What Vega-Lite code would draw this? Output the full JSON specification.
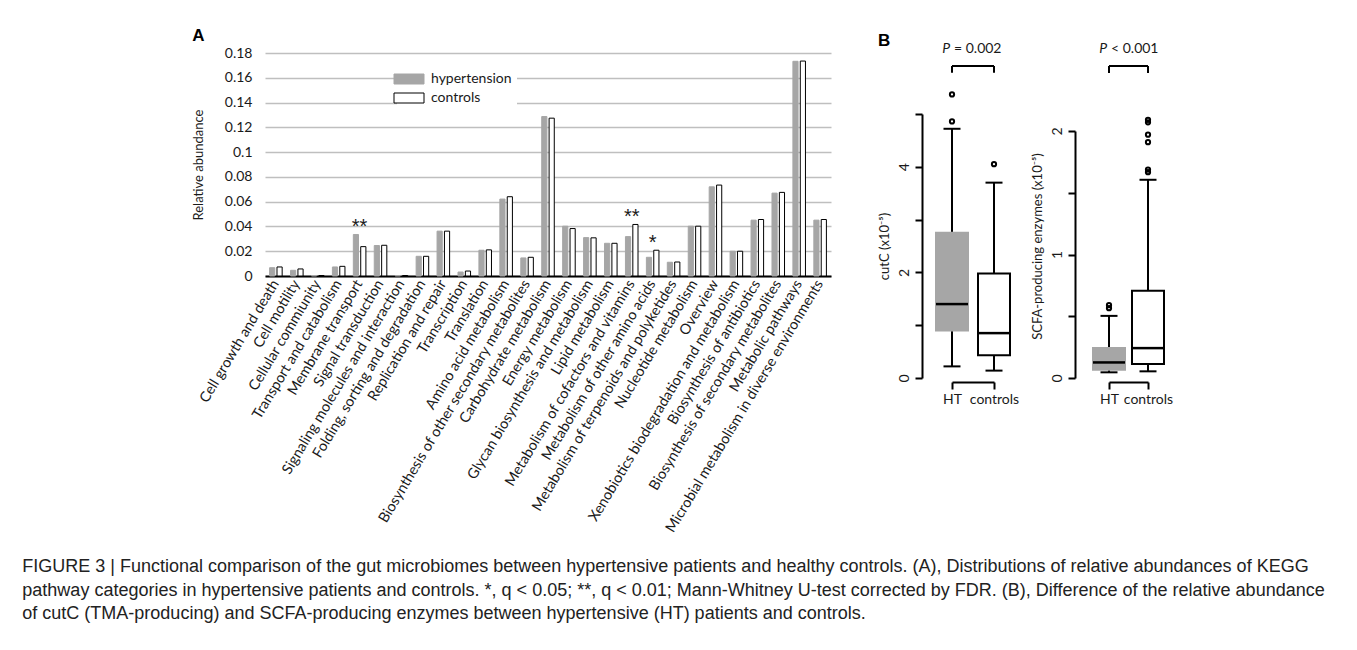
{
  "$schema": "https://vega.github.io/schema/vega-lite/v6.json",
  "background": "white",
  "padding": {"left": 22, "top": 27, "right": 5, "bottom": 2},
  "title": {
    "text": [
      "FIGURE 3 | Functional comparison of the gut microbiomes between hypertensive patients and healthy controls. (A), Distributions of relative abundances of KEGG",
      "pathway categories in hypertensive patients and controls. *, q < 0.05; **, q < 0.01; Mann-Whitney U-test corrected by FDR. (B), Difference of the relative abundance",
      "of cutC (TMA-producing) and SCFA-producing enzymes between hypertensive (HT) patients and controls."
    ],
    "orient": "bottom",
    "anchor": "start",
    "frame": "bounds",
    "dx": -170,
    "offset": 24,
    "font": "Liberation Sans",
    "fontSize": 18,
    "fontWeight": "normal",
    "lineHeight": 23.5,
    "color": "#222222"
  },
  "datasets": {
    "kegg": [
      {"category": "Cell growth and death", "hypertension": 0.0067, "controls": 0.0073, "sig": ""},
      {"category": "Cell motility", "hypertension": 0.0046, "controls": 0.0057, "sig": ""},
      {"category": "Cellular commiunity", "hypertension": 0.0004, "controls": 0.0004, "sig": ""},
      {"category": "Transport and catabolism", "hypertension": 0.0073, "controls": 0.0078, "sig": ""},
      {"category": "Membrane transport", "hypertension": 0.0335, "controls": 0.0237, "sig": "**"},
      {"category": "Signal transduction", "hypertension": 0.0246, "controls": 0.0248, "sig": ""},
      {"category": "Signaling molecules and interaction", "hypertension": 0.0004, "controls": 0.0004, "sig": ""},
      {"category": "Folding, sorting and degradation", "hypertension": 0.0159, "controls": 0.0159, "sig": ""},
      {"category": "Replication and repair", "hypertension": 0.0362, "controls": 0.0362, "sig": ""},
      {"category": "Transcription", "hypertension": 0.0032, "controls": 0.0040, "sig": ""},
      {"category": "Translation", "hypertension": 0.0208, "controls": 0.0211, "sig": ""},
      {"category": "Amino acid metabolism", "hypertension": 0.0621, "controls": 0.0640, "sig": ""},
      {"category": "Biosynthesis of other secondary metabolites", "hypertension": 0.0146, "controls": 0.0151, "sig": ""},
      {"category": "Carbohydrate metabolism", "hypertension": 0.1287, "controls": 0.1274, "sig": ""},
      {"category": "Energy metabolism", "hypertension": 0.0402, "controls": 0.0383, "sig": ""},
      {"category": "Glycan biosynthesis and metabolism", "hypertension": 0.0310, "controls": 0.0308, "sig": ""},
      {"category": "Lipid metabolism", "hypertension": 0.0264, "controls": 0.0264, "sig": ""},
      {"category": "Metabolism of cofactors and vitamins", "hypertension": 0.0318, "controls": 0.0416, "sig": "**"},
      {"category": "Metabolism of other amino acids", "hypertension": 0.0151, "controls": 0.0208, "sig": "*"},
      {"category": "Metabolism of terpenoids and polyketides", "hypertension": 0.0111, "controls": 0.0113, "sig": ""},
      {"category": "Nucleotide metabolism", "hypertension": 0.0402, "controls": 0.0402, "sig": ""},
      {"category": "Overview", "hypertension": 0.0720, "controls": 0.0734, "sig": ""},
      {"category": "Xenobiotics biodegradation and metabolism", "hypertension": 0.0200, "controls": 0.0200, "sig": ""},
      {"category": "Biosynthesis of antibiotics", "hypertension": 0.0451, "controls": 0.0456, "sig": ""},
      {"category": "Biosynthesis of secondary metabolites", "hypertension": 0.0669, "controls": 0.0675, "sig": ""},
      {"category": "Metabolic pathways", "hypertension": 0.1733, "controls": 0.1735, "sig": ""},
      {"category": "Microbial metabolism in diverse environments", "hypertension": 0.0451, "controls": 0.0456, "sig": ""}
    ],
    "cutc": [
      {"group": "HT", "lower": 0.22, "q1": 0.90, "median": 1.40, "q3": 2.75, "upper": 4.72},
      {"group": "controls", "lower": 0.14, "q1": 0.43, "median": 0.85, "q3": 1.98, "upper": 3.70}
    ],
    "cutc_out": [
      {"group": "HT", "value": 4.86},
      {"group": "HT", "value": 5.37},
      {"group": "controls", "value": 4.05}
    ],
    "scfa": [
      {"group": "HT", "lower": 0.046, "q1": 0.067, "median": 0.126, "q3": 0.242, "upper": 0.503},
      {"group": "controls", "lower": 0.054, "q1": 0.113, "median": 0.242, "q3": 0.707, "upper": 1.605}
    ],
    "scfa_out": [
      {"group": "HT", "value": 0.565},
      {"group": "HT", "value": 0.59},
      {"group": "controls", "value": 1.667},
      {"group": "controls", "value": 1.688},
      {"group": "controls", "value": 1.909},
      {"group": "controls", "value": 1.970},
      {"group": "controls", "value": 2.070},
      {"group": "controls", "value": 2.091}
    ]
  },
  "resolve": {"scale": {"fill": "independent", "stroke": "independent"}, "legend": {"fill": "independent", "stroke": "independent"}},
  "spacing": 47,
  "hconcat": [
    {
      "title": {"text": "A", "anchor": "start", "frame": "bounds", "font": "Liberation Sans", "fontSize": 17, "fontWeight": "bold", "color": "#000000", "offset": 1},
      "width": 566,
      "height": 223,
      "data": {"name": "kegg"},
      "layer": [
        {
          "transform": [{"fold": ["hypertension", "controls"], "as": ["group", "abundance"]}],
          "mark": {"type": "bar", "strokeWidth": 1},
          "encoding": {
            "x": {
              "field": "category", "type": "nominal", "sort": null,
              "scale": {"paddingInner": 0.4, "paddingOuter": 0.22},
              "axis": {"title": null, "labelAngle": -59, "labelAlign": "right", "labelBaseline": "middle", "labelFont": "Lato", "labelFontSize": 14.5, "labelColor": "#1a1a1a", "labelLimit": 0, "labelPadding": 5, "ticks": false, "domainColor": "#000000", "domainWidth": 2, "labelOverlap": false}
            },
            "xOffset": {"field": "group", "type": "nominal", "sort": ["hypertension", "controls"], "scale": {"paddingInner": 0.3}},
            "y": {
              "field": "abundance", "type": "quantitative",
              "scale": {"domain": [0, 0.18], "nice": false},
              "axis": {"title": "Relative abundance", "titleFont": "Lato", "titleFontSize": 13, "titleFontWeight": "normal", "titleColor": "#1a1a1a", "titlePadding": 19, "values": [0, 0.02, 0.04, 0.06, 0.08, 0.1, 0.12, 0.14, 0.16, 0.18], "labelExpr": "format(datum.value, '~g')", "labelOverlap": false, "labelFont": "Lato", "labelFontSize": 14, "labelColor": "#1a1a1a", "labelPadding": 13, "domain": false, "ticks": false, "grid": true, "gridColor": "#bfbfbf", "gridWidth": 1.3}
            },
            "fill": {
              "field": "group", "type": "nominal",
              "scale": {"domain": ["hypertension", "controls"], "range": ["#a6a6a6", "#ffffff"]},
              "legend": {"title": null, "orient": "none", "legendX": 132, "legendY": 14, "symbolType": "M-3,-1H3V1H-3Z", "symbolSize": 100, "symbolStrokeWidth": 1, "labelFont": "Lato", "labelFontSize": 14, "labelColor": "#1a1a1a", "labelOffset": 15, "rowPadding": 5, "padding": 5, "fillColor": "#ffffff"}
            },
            "stroke": {
              "field": "group", "type": "nominal",
              "scale": {"domain": ["hypertension", "controls"], "range": ["#a6a6a6", "#000000"]},
              "legend": {"title": null, "orient": "none", "legendX": 132, "legendY": 14, "symbolType": "M-3,-1H3V1H-3Z", "symbolSize": 100, "symbolStrokeWidth": 1, "labelFont": "Lato", "labelFontSize": 14, "labelColor": "#1a1a1a", "labelOffset": 15, "rowPadding": 5, "padding": 5, "fillColor": "#ffffff"}
            }
          }
        },
        {
          "transform": [
            {"filter": "datum.sig != ''"},
            {"fold": ["hypertension", "controls"], "as": ["group", "abundance"]},
            {"aggregate": [{"op": "max", "field": "abundance", "as": "top"}], "groupby": ["category", "sig"]}
          ],
          "mark": {"type": "text", "font": "Liberation Sans", "fontSize": 20, "baseline": "alphabetic", "dy": -1, "color": "#1a1a1a"},
          "encoding": {
            "x": {"field": "category", "type": "nominal", "sort": null},
            "y": {
              "field": "top", "type": "quantitative",
              "axis": {"title": "Relative abundance", "titleFont": "Lato", "titleFontSize": 13, "titleFontWeight": "normal", "titleColor": "#1a1a1a", "titlePadding": 19, "values": [0, 0.02, 0.04, 0.06, 0.08, 0.1, 0.12, 0.14, 0.16, 0.18], "labelExpr": "format(datum.value, '~g')", "labelOverlap": false, "labelFont": "Lato", "labelFontSize": 14, "labelColor": "#1a1a1a", "labelPadding": 13, "domain": false, "ticks": false, "grid": true, "gridColor": "#bfbfbf", "gridWidth": 1.3}
            },
            "text": {"field": "sig"}
          }
        }
      ]
    },
    {
      "title": {"text": "B", "anchor": "start", "frame": "bounds", "font": "Liberation Sans", "fontSize": 17, "fontWeight": "bold", "color": "#000000", "offset": -8},
      "spacing": 12,
      "hconcat": [
        {
          "width": 42,
          "height": 325,
          "data": {"name": "cutc"},
          "encoding": {
            "x": {
              "field": "group", "type": "nominal",
              "scale": {"type": "point", "padding": 0, "domain": ["HT", "controls"]},
              "axis": {"title": null, "labelAngle": 0, "labelFont": "Lato", "labelFontSize": 14, "labelColor": "#1a1a1a", "labelPadding": 3, "offset": 4, "domainColor": "#000000", "domainWidth": 2, "tickColor": "#000000", "tickWidth": 2, "tickSize": 7}
            }
          },
          "layer": [
            {
              "mark": {"type": "rule", "color": "#000000", "strokeWidth": 2, "clip": false},
              "encoding": {
                "y": {
                  "field": "lower", "type": "quantitative",
                  "scale": {"domain": [0, 5], "nice": false, "range": [325, 61]},
                  "axis": {"title": "cutC (x10⁻⁵)", "titleFont": "Lato", "titleFontSize": 13, "titleFontWeight": "normal", "titleColor": "#1a1a1a", "titlePadding": 6, "titleY": 193, "values": [0, 1, 2, 3, 4, 5], "labelExpr": "datum.value % 2 == 0 ? format(datum.value, '~g') : ''", "labelOverlap": false, "labelAngle": -90, "labelAlign": "center", "labelBaseline": "bottom", "labelFont": "Lato", "labelFontSize": 14, "labelColor": "#1a1a1a", "labelPadding": 4, "offset": 30, "grid": false, "domainColor": "#000000", "domainWidth": 2, "tickColor": "#000000", "tickWidth": 2, "tickSize": 7}
                },
                "y2": {"field": "upper"}
              }
            },
            {
              "mark": {"type": "tick", "color": "#000000", "thickness": 2, "size": 17, "opacity": 1, "clip": false},
              "encoding": {"y": {"field": "lower", "type": "quantitative", "title": "cutC (x10⁻⁵)"}}
            },
            {
              "mark": {"type": "tick", "color": "#000000", "thickness": 2, "size": 17, "opacity": 1, "clip": false},
              "encoding": {"y": {"field": "upper", "type": "quantitative", "title": "cutC (x10⁻⁵)"}}
            },
            {
              "mark": {"type": "bar", "size": 32, "strokeWidth": 2, "opacity": 1, "clip": false},
              "encoding": {
                "y": {"field": "q1", "type": "quantitative", "title": "cutC (x10⁻⁵)"},
                "y2": {"field": "q3"},
                "fill": {"field": "group", "type": "nominal", "scale": {"domain": ["HT", "controls"], "range": ["#a6a6a6", "#ffffff"]}, "legend": null},
                "stroke": {"field": "group", "type": "nominal", "scale": {"domain": ["HT", "controls"], "range": ["#a6a6a6", "#000000"]}, "legend": null}
              }
            },
            {
              "mark": {"type": "tick", "color": "#000000", "thickness": 2.5, "size": 32, "opacity": 1, "clip": false},
              "encoding": {"y": {"field": "median", "type": "quantitative", "title": "cutC (x10⁻⁵)"}}
            },
            {
              "data": {"name": "cutc_out"},
              "mark": {"type": "point", "shape": "circle", "filled": false, "color": "#000000", "strokeWidth": 2, "size": 18, "opacity": 1, "clip": false},
              "encoding": {"y": {"field": "value", "type": "quantitative", "title": "cutC (x10⁻⁵)"}}
            },
            {
              "mark": {"type": "rule", "color": "#000000", "strokeWidth": 2, "clip": false},
              "encoding": {"y": {"datum": 5.78, "type": "quantitative"}, "y2": {"datum": 5.91}}
            },
            {
              "data": {"values": [{"a": "P", "b": "= 0.002"}]},
              "layer": [
                {
                  "mark": {"type": "rule", "color": "#000000", "strokeWidth": 2, "clip": false},
                  "encoding": {"x": {"datum": "HT"}, "x2": {"datum": "controls"}, "y": {"datum": 5.91, "type": "quantitative"}}
                },
                {
                  "mark": {"type": "text", "font": "Lato", "fontSize": 14, "fontStyle": "italic", "align": "right", "baseline": "middle", "dx": -2, "color": "#1a1a1a", "clip": false},
                  "encoding": {"x": {"datum": "HT"}, "y": {"datum": 6.23, "type": "quantitative"}, "text": {"field": "a"}}
                },
                {
                  "mark": {"type": "text", "font": "Lato", "fontSize": 14, "align": "left", "baseline": "middle", "dx": 2, "color": "#1a1a1a", "clip": false},
                  "encoding": {"x": {"datum": "HT"}, "y": {"datum": 6.23, "type": "quantitative"}, "text": {"field": "b"}}
                }
              ]
            }
          ]
        },
        {
          "width": 39,
          "height": 325,
          "data": {"name": "scfa"},
          "encoding": {
            "x": {
              "field": "group", "type": "nominal",
              "scale": {"type": "point", "padding": 0, "domain": ["HT", "controls"]},
              "axis": {"title": null, "labelAngle": 0, "labelFont": "Lato", "labelFontSize": 14, "labelColor": "#1a1a1a", "labelPadding": 3, "offset": 4, "domainColor": "#000000", "domainWidth": 2, "tickColor": "#000000", "tickWidth": 2, "tickSize": 7}
            }
          },
          "layer": [
            {
              "mark": {"type": "rule", "color": "#000000", "strokeWidth": 2, "clip": false},
              "encoding": {
                "y": {
                  "field": "lower", "type": "quantitative",
                  "scale": {"domain": [0, 2], "nice": false, "range": [325, 78]},
                  "axis": {"title": "SCFA-producing enzymes (x10⁻⁵)", "titleFont": "Lato", "titleFontSize": 13, "titleFontWeight": "normal", "titleColor": "#1a1a1a", "titlePadding": 6, "titleY": 193, "values": [0, 0.5, 1, 1.5, 2], "labelExpr": "datum.value % 1 == 0 ? format(datum.value, '~g') : ''", "labelOverlap": false, "labelAngle": -90, "labelAlign": "center", "labelBaseline": "bottom", "labelFont": "Lato", "labelFontSize": 14, "labelColor": "#1a1a1a", "labelPadding": 4, "offset": 34, "grid": false, "domainColor": "#000000", "domainWidth": 2, "tickColor": "#000000", "tickWidth": 2, "tickSize": 7}
                },
                "y2": {"field": "upper"}
              }
            },
            {
              "mark": {"type": "tick", "color": "#000000", "thickness": 2, "size": 17, "opacity": 1, "clip": false},
              "encoding": {"y": {"field": "lower", "type": "quantitative", "title": "SCFA-producing enzymes (x10⁻⁵)"}}
            },
            {
              "mark": {"type": "tick", "color": "#000000", "thickness": 2, "size": 17, "opacity": 1, "clip": false},
              "encoding": {"y": {"field": "upper", "type": "quantitative", "title": "SCFA-producing enzymes (x10⁻⁵)"}}
            },
            {
              "mark": {"type": "bar", "size": 32, "strokeWidth": 2, "opacity": 1, "clip": false},
              "encoding": {
                "y": {"field": "q1", "type": "quantitative", "title": "SCFA-producing enzymes (x10⁻⁵)"},
                "y2": {"field": "q3"},
                "fill": {"field": "group", "type": "nominal", "scale": {"domain": ["HT", "controls"], "range": ["#a6a6a6", "#ffffff"]}, "legend": null},
                "stroke": {"field": "group", "type": "nominal", "scale": {"domain": ["HT", "controls"], "range": ["#a6a6a6", "#000000"]}, "legend": null}
              }
            },
            {
              "mark": {"type": "tick", "color": "#000000", "thickness": 2.5, "size": 32, "opacity": 1, "clip": false},
              "encoding": {"y": {"field": "median", "type": "quantitative", "title": "SCFA-producing enzymes (x10⁻⁵)"}}
            },
            {
              "data": {"name": "scfa_out"},
              "mark": {"type": "point", "shape": "circle", "filled": false, "color": "#000000", "strokeWidth": 2, "size": 18, "opacity": 1, "clip": false},
              "encoding": {"y": {"field": "value", "type": "quantitative", "title": "SCFA-producing enzymes (x10⁻⁵)"}}
            },
            {
              "mark": {"type": "rule", "color": "#000000", "strokeWidth": 2, "clip": false},
              "encoding": {"y": {"datum": 2.47, "type": "quantitative"}, "y2": {"datum": 2.526}}
            },
            {
              "data": {"values": [{"a": "P", "b": "< 0.001"}]},
              "layer": [
                {
                  "mark": {"type": "rule", "color": "#000000", "strokeWidth": 2, "clip": false},
                  "encoding": {"x": {"datum": "HT"}, "x2": {"datum": "controls"}, "y": {"datum": 2.526, "type": "quantitative"}}
                },
                {
                  "mark": {"type": "text", "font": "Lato", "fontSize": 14, "fontStyle": "italic", "align": "right", "baseline": "middle", "dx": -2, "color": "#1a1a1a", "clip": false},
                  "encoding": {"x": {"datum": "HT"}, "y": {"datum": 2.664, "type": "quantitative"}, "text": {"field": "a"}}
                },
                {
                  "mark": {"type": "text", "font": "Lato", "fontSize": 14, "align": "left", "baseline": "middle", "dx": 2, "color": "#1a1a1a", "clip": false},
                  "encoding": {"x": {"datum": "HT"}, "y": {"datum": 2.664, "type": "quantitative"}, "text": {"field": "b"}}
                }
              ]
            }
          ]
        }
      ]
    }
  ],
  "config": {
    "view": {"stroke": null},
    "font": "Lato"
  }
}
